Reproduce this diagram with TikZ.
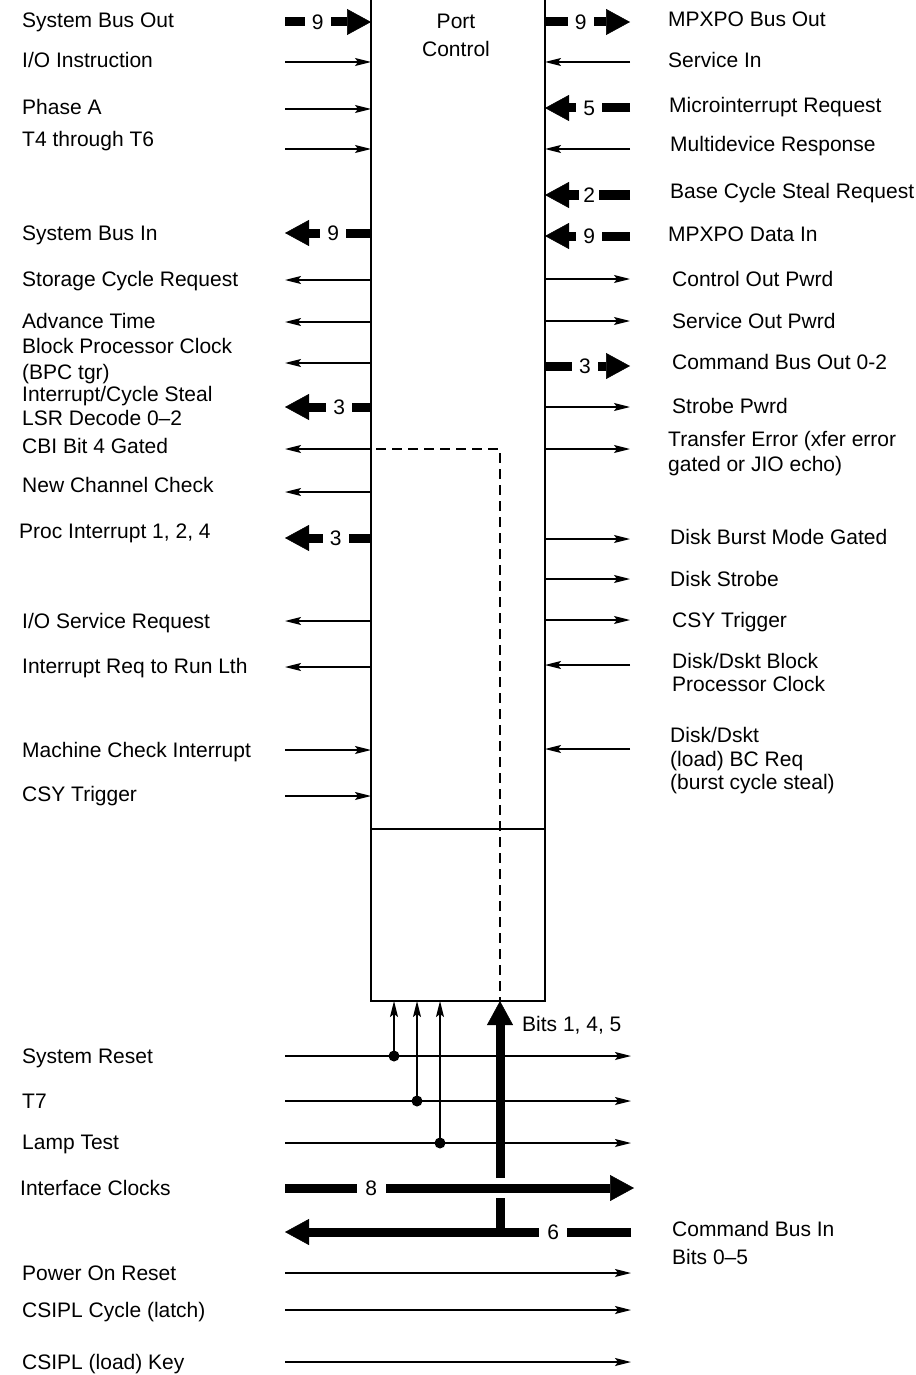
\documentclass[tikz,border=0pt]{standalone}
\usepackage{fontspec}
\setmainfont{Liberation Sans}
\usetikzlibrary{arrows.meta}
\begin{document}
\begin{tikzpicture}[x=1pt,y=-1pt,
  lbl/.style={anchor=base west, inner sep=0pt, font=\fontsize{21}{24}\selectfont},
  ctr/.style={anchor=base, inner sep=0pt, font=\fontsize{21}{24}\selectfont},
  sig/.style={line width=1.4pt, -{Stealth[length=16pt,width=8pt,inset=3pt]}},
  bus/.style={line width=9pt, -{Triangle[length=24pt,width=26pt,line width=0.5pt]}},
  busbar/.style={line width=9pt},
  num/.style={fill=white, inner sep=0pt, minimum width=26pt, minimum height=30pt, font=\fontsize{21}{24}\selectfont},
  dot/.style={circle, fill=black, inner sep=0pt, minimum size=11pt},
  dashline/.style={line width=1.4pt, dash pattern=on 10pt off 6pt}
]
\useasboundingbox (0,0) rectangle (915,1375);

% ---------- box ----------
\node[draw, line width=2pt, minimum width=174pt, minimum height=1040pt, anchor=south west, inner sep=0pt, outer sep=0pt] (box) at (371,1001) {};
\node[ctr] (port) at (456,29) {Port};
\node[ctr] (control) at (456,57) {Control};
\coordinate (divL) at (371,829);
\coordinate (divR) at (545,829);
\draw[line width=1.6pt] (divL) -- (divR);
\coordinate (dsA) at (376,449);
\coordinate (dsB) at (500,449);
\draw[dashline] (dsA) -- (dsB) -- (dsB |- box.south);

% ---------- left labels ----------
\node[lbl] (l1) at (22,28) {System Bus Out};
\node[lbl] (l2) at (22,68) {I/O Instruction};
\node[lbl] (l3) at (22,115) {Phase A};
\node[lbl] (l4) at (22,147) {T4 through T6};
\node[lbl] (l5) at (22,240) {System Bus In};
\node[lbl] (l6) at (22,286) {Storage Cycle Request};
\node[lbl] (l7) at (22,328) {Advance Time};
\node[lbl] (l8a) at (22,353) {Block Processor Clock};
\node[lbl] (l8b) at (22,379) {(BPC tgr)};
\node[lbl] (l9a) at (22,401) {Interrupt/Cycle Steal};
\node[lbl] (l9b) at (22,425) {LSR Decode 0–2};
\node[lbl] (l10) at (22,453) {CBI Bit 4 Gated};
\node[lbl] (l11) at (22,492) {New Channel Check};
\node[lbl] (l12) at (19,538) {Proc Interrupt 1, 2, 4};
\node[lbl] (l13) at (22,628) {I/O Service Request};
\node[lbl] (l14) at (22,673) {Interrupt Req to Run Lth};
\node[lbl] (l15) at (22,757) {Machine Check Interrupt};
\node[lbl] (l16) at (22,801) {CSY Trigger};

% ---------- right labels ----------
\node[lbl] (r1) at (668,27) {MPXPO Bus Out};
\node[lbl] (r2) at (668,68) {Service In};
\node[lbl] (r3) at (669,113) {Microinterrupt Request};
\node[lbl] (r4) at (670,152) {Multidevice Response};
\node[lbl] (r5) at (670,199) {Base Cycle Steal Request};
\node[lbl] (r6) at (668,241) {MPXPO Data In};
\node[lbl] (r7) at (672,286) {Control Out Pwrd};
\node[lbl] (r8) at (672,328) {Service Out Pwrd};
\node[lbl] (r9) at (672,369) {Command Bus Out 0-2};
\node[lbl] (r10) at (672,413) {Strobe Pwrd};
\node[lbl] (r11a) at (668,446) {Transfer Error (xfer error};
\node[lbl] (r11b) at (668,471) {gated or JIO echo)};
\node[lbl] (r12) at (670,544) {Disk Burst Mode Gated};
\node[lbl] (r13) at (670,586) {Disk Strobe};
\node[lbl] (r14) at (672,627) {CSY Trigger};
\node[lbl] (r15a) at (672,668) {Disk/Dskt Block};
\node[lbl] (r15b) at (672,691) {Processor Clock};
\node[lbl] (r16a) at (670,742) {Disk/Dskt};
\node[lbl] (r16b) at (670,766) {(load) BC Req};
\node[lbl] (r16c) at (670,789) {(burst cycle steal)};

% ---------- bottom labels ----------
\node[lbl] (b1) at (22,1063) {System Reset};
\node[lbl] (b2) at (22,1108) {T7};
\node[lbl] (b3) at (22,1149) {Lamp Test};
\node[lbl] (b4) at (20,1195) {Interface Clocks};
\node[lbl] (b5) at (22,1280) {Power On Reset};
\node[lbl] (b6) at (22,1317) {CSIPL Cycle (latch)};
\node[lbl] (b7) at (22,1369) {CSIPL (load) Key};
\node[lbl] (b8a) at (672,1236) {Command Bus In};
\node[lbl] (b8b) at (672,1264) {Bits 0–5};
\node[lbl] (bits) at (522,1031) {Bits 1, 4, 5};

% ---------- left side connectors ----------
\coordinate (La) at (285,22);
\draw[bus] (La) -- (box.west |- La) node[num, pos=0.38] {9};
\foreach \n/\y in {b/62, c/109, d/149, p/750, q/796}{
  \coordinate (L\n) at (285,\y);
  \draw[sig] (L\n) -- (box.west |- L\n);
}
\foreach \n/\y in {f/280, g/322, h/363, j/449, k/492, m/621, o/667}{
  \coordinate (L\n) at (285,\y);
  \draw[sig] (box.west |- L\n) -- (L\n);
}
\coordinate (Le) at (285,233);
\draw[bus] (box.west |- Le) -- (Le) node[num, pos=0.44] {9};
\coordinate (Li) at (285,407);
\draw[bus] (box.west |- Li) -- (Li) node[num, pos=0.37] {3};
\coordinate (Ll) at (285,538);
\draw[bus] (box.west |- Ll) -- (Ll) node[num, pos=0.41] {3};

% ---------- right side connectors ----------
\coordinate (Ra) at (630,22);
\draw[bus] (box.east |- Ra) -- (Ra) node[num, pos=0.42] {9};
\coordinate (Ri) at (630,366);
\draw[bus] (box.east |- Ri) -- (Ri) node[num, pos=0.47] {3};
\foreach \n/\y in {b/62, d/149, o/665, p/749}{
  \coordinate (R\n) at (630,\y);
  \draw[sig] (R\n) -- (box.east |- R\n);
}
\foreach \n/\y in {f/279, g/321, j/407, k/449, l/539, m/579, n/620}{
  \coordinate (R\n) at (630,\y);
  \draw[sig] (box.east |- R\n) -- (R\n);
}
\coordinate (Rc) at (630,108);
\draw[bus] (Rc) -- (box.east |- Rc) node[num, pos=0.48] {5};
\coordinate (Re) at (630,195);
\draw[bus] (Re) -- (box.east |- Re) node[num, pos=0.48, minimum width=20pt] {2};
\coordinate (Rh) at (630,236);
\draw[bus] (Rh) -- (box.east |- Rh) node[num, pos=0.48] {9};

% ---------- bottom connectors ----------
\foreach \n/\y/\x in {1/1056/394, 2/1101/417, 3/1143/440}{
  \coordinate (bs\n) at (285,\y);
  \coordinate (be\n) at (631,\y);
  \draw[sig] (bs\n) -- (be\n);
  \node[dot] (d\n) at (\x,\y) {};
  \draw[sig] (d\n.center) -- (d\n.center |- box.south);
}
\foreach \n/\y in {5/1273, 6/1310, 7/1362}{
  \coordinate (bs\n) at (285,\y);
  \coordinate (be\n) at (631,\y);
  \draw[sig] (bs\n) -- (be\n);
}
% Bits 1,4,5 thick arrow into box
\coordinate (vb) at (500,1178);
\draw[bus] (vb) -- (vb |- box.south);
% Interface clocks bus
\coordinate (ic1) at (285,1188);
\coordinate (ic2) at (634,1188);
\draw[bus] (ic1) -- (ic2) node[num, pos=0.247, minimum width=29pt] {8};
% Command bus in
\coordinate (cb1) at (631,1232);
\coordinate (cb2) at (285,1232);
\coordinate (st1) at (500,1198);
\coordinate (st2) at (500,1232);
\draw[busbar] (st1) -- (st2);
\draw[bus] (cb1) -- (cb2) node[num, pos=0.225, minimum width=28pt] {6};
\end{tikzpicture}
\end{document}
